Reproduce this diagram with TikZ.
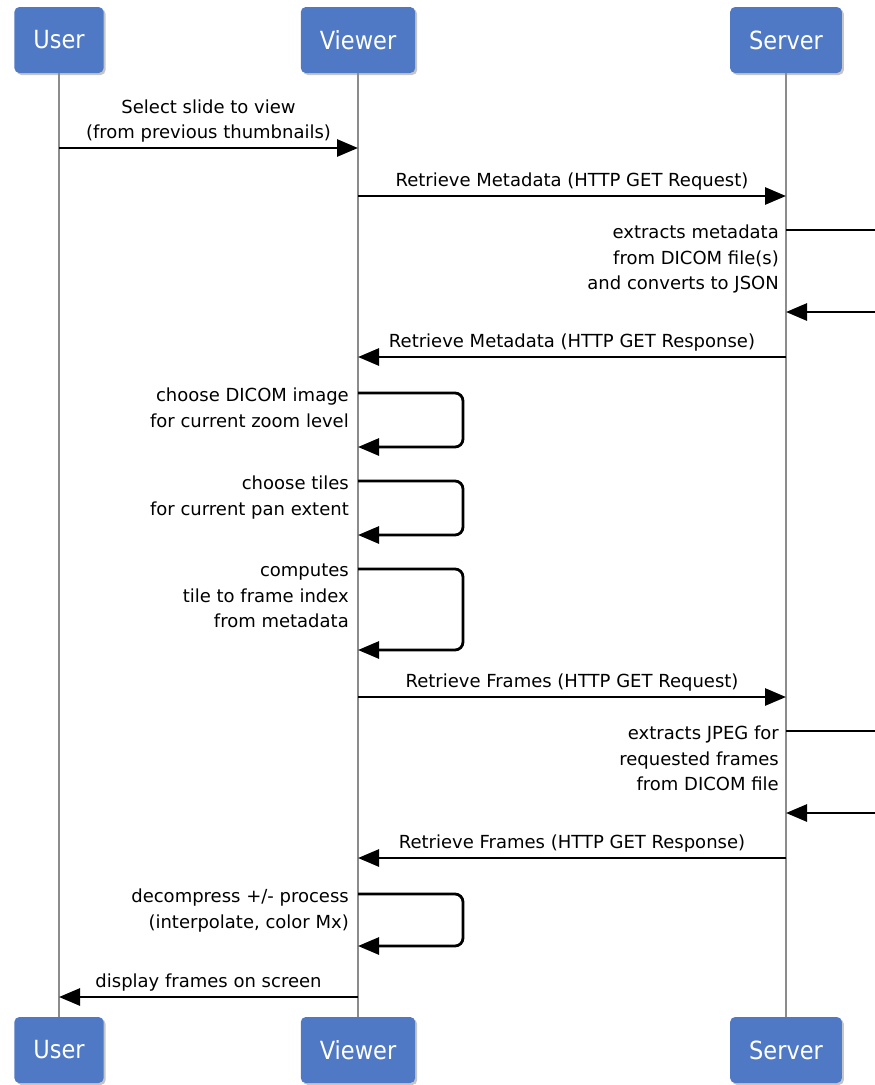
\documentclass[tikz,border=0pt]{standalone}
\usepackage{fontspec}
\setmainfont{DejaVu Sans}
\newfontfamily\headfont{DejaVu Sans Condensed}
\usetikzlibrary{arrows.meta,shadows}
\definecolor{head_blue}{RGB}{79,121,196}
\definecolor{life_gray}{RGB}{140,140,140}

\begin{document}
\begin{tikzpicture}[x=1pt,y=-1pt,>={Triangle[length=21pt,width=17pt]}]
    \tikzstyle{head}=[fill=head_blue, rounded corners=5pt, text=white, minimum height=66pt, inner xsep=19pt, font=\headfont\fontsize{25}{28}\selectfont, drop shadow={shadow xshift=2pt,shadow yshift=-2pt,opacity=0.45}]
    \tikzstyle{life}=[draw=life_gray, line width=2.6pt]
    \tikzstyle{msg}=[->, line width=2.8pt]
    \tikzstyle{selfmsg}=[style=msg, rounded corners=8pt]
    \tikzstyle{note}=[inner sep=0pt, font=\fontsize{18}{25.5}\selectfont]
    \tikzstyle{selfnote}=[style=note, anchor=north east, align=right]

    \useasboundingbox (0,0) rectangle (875,1085);
    \clip (0,0) rectangle (875,1085);

    \node[head] (userTop)   at (59,40)    {User};
    \node[head] (viewerTop) at (358,40)   {Viewer};
    \node[head] (serverTop) at (786,40)   {Server};
    \node[head] (userBot)   at (59,1050)  {User};
    \node[head] (viewerBot) at (358,1050) {Viewer};
    \node[head] (serverBot) at (786,1050) {Server};

    \draw[life] (userTop.south)   -- (userBot.north);
    \draw[life] (viewerTop.south) -- (viewerBot.north);
    \draw[life] (serverTop.south) -- (serverBot.north);

    \coordinate (outA) at (885,230);
    \coordinate (outB) at (885,312);
    \coordinate (outC) at (885,731);
    \coordinate (outD) at (885,813);

    \draw[msg] (userTop |- 0,148) -- node[note, above=4pt, align=center] (selectTxt)
        {Select slide to view\\(from previous thumbnails)} (viewerTop |- 0,148);
    \draw[msg] (viewerTop |- 0,196) -- node[note, above=4pt] (metaReqTxt)
        {Retrieve Metadata (HTTP GET Request)} (serverTop |- 0,196);

    \draw[msg, -] (serverTop |- outA) -- (outA);
    \draw[msg] (outB) -- (serverTop |- outB);
    \node[selfnote] (extractMetaTxt) at (779,225)
        {extracts metadata\\from DICOM file(s)\\and converts to JSON};

    \draw[msg] (serverTop |- 0,357) -- node[note, above=4pt] (metaRespTxt)
        {Retrieve Metadata (HTTP GET Response)} (viewerTop |- 0,357);

    \draw[selfmsg] (viewerTop |- 0,393) -- (463,393) -- (463,447) -- (viewerTop |- 0,447);
    \node[selfnote] (zoomTxt) at (349,388) {choose DICOM image\\for current zoom level};

    \draw[selfmsg] (viewerTop |- 0,481) -- (463,481) -- (463,535) -- (viewerTop |- 0,535);
    \node[selfnote] (tilesTxt) at (349,476) {choose tiles\\for current pan extent};

    \draw[selfmsg] (viewerTop |- 0,569) -- (463,569) -- (463,650) -- (viewerTop |- 0,650);
    \node[selfnote] (indexTxt) at (349,564) {computes\\tile to frame index\\from metadata};

    \draw[msg] (viewerTop |- 0,697) -- node[note, above=4pt] (frameReqTxt)
        {Retrieve Frames (HTTP GET Request)} (serverTop |- 0,697);

    \draw[msg, -] (serverTop |- outC) -- (outC);
    \draw[msg] (outD) -- (serverTop |- outD);
    \node[selfnote] (extractJpegTxt) at (779,726)
        {extracts JPEG for\\requested frames\\from DICOM file};

    \draw[msg] (serverTop |- 0,858) -- node[note, above=4pt] (frameRespTxt)
        {Retrieve Frames (HTTP GET Response)} (viewerTop |- 0,858);

    \draw[selfmsg] (viewerTop |- 0,894) -- (463,894) -- (463,946) -- (viewerTop |- 0,946);
    \node[selfnote] (decompTxt) at (349,889) {decompress +/- process\\(interpolate, color Mx)};

    \draw[msg] (viewerTop |- 0,997) -- node[note, above=4pt] (displayTxt)
        {display frames on screen} (userTop |- 0,997);
\end{tikzpicture}
\end{document}
